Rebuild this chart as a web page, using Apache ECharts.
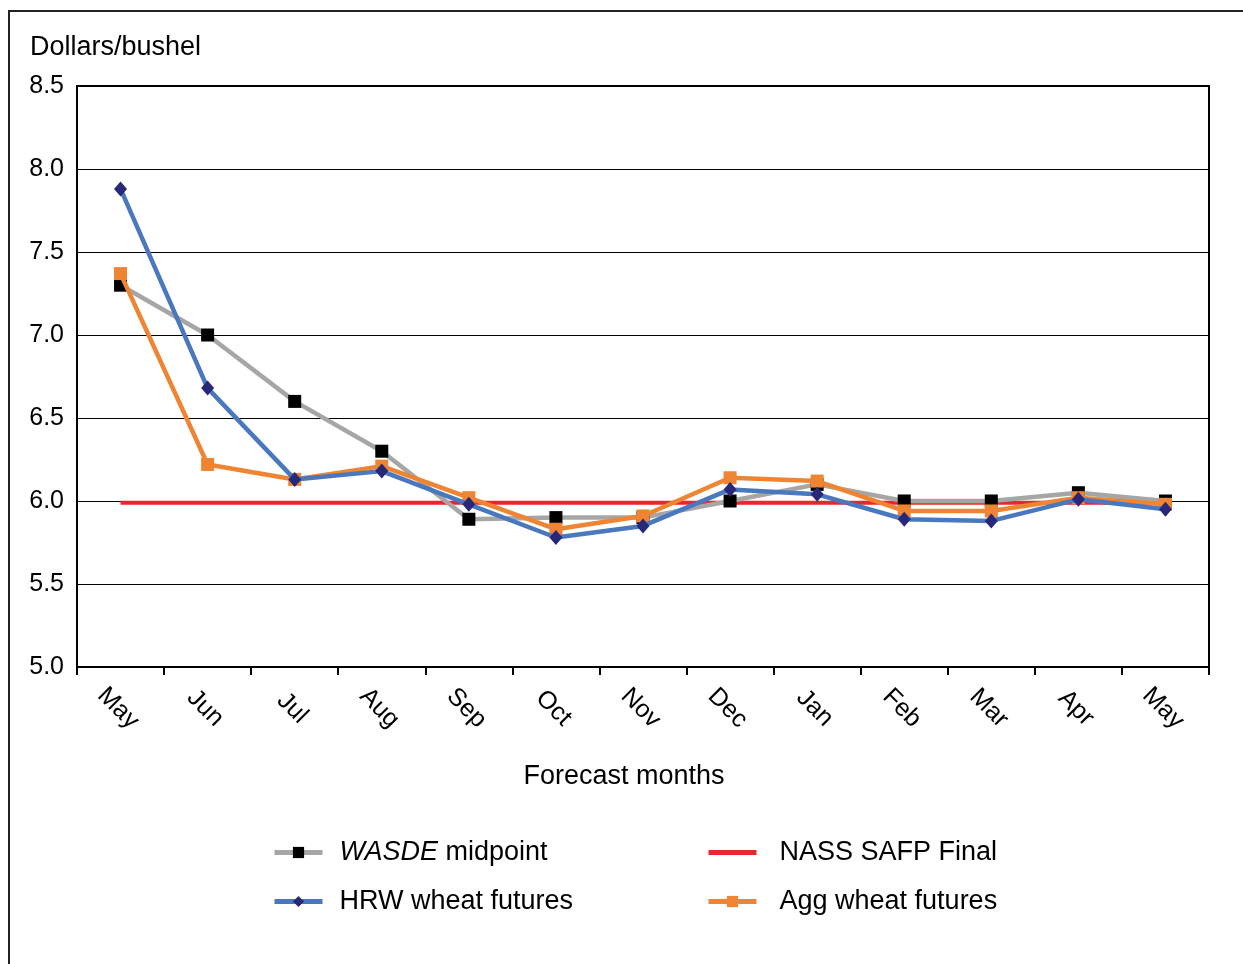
<!DOCTYPE html>
<html>
<head>
<meta charset="utf-8">
<script src="https://cdn.jsdelivr.net/npm/echarts@6/dist/echarts.min.js"></script>
<style>
html,body{margin:0;padding:0;background:#fff;}
#chart{width:1243px;height:964px;}
</style>
</head>
<body>
<div id="chart"></div>
<script>
const months = ['May','Jun','Jul','Aug','Sep','Oct','Nov','Dec','Jan','Feb','Mar','Apr','May'];
const wasde = [7.30, 7.00, 6.60, 6.30, 5.89, 5.90, 5.90, 6.00, 6.10, 6.00, 6.00, 6.05, 6.00];
const nassFinal = [5.99, 5.99, 5.99, 5.99, 5.99, 5.99, 5.99, 5.99, 5.99, 5.99, 5.99, 5.99, 5.99];
const hrw = [7.88, 6.68, 6.13, 6.18, 5.98, 5.78, 5.85, 6.07, 6.04, 5.89, 5.88, 6.01, 5.95];
const agg = [7.37, 6.22, 6.13, 6.21, 6.02, 5.83, 5.91, 6.14, 6.12, 5.94, 5.94, 6.02, 5.98];
const yTicks = [5.0, 5.5, 6.0, 6.5, 7.0, 7.5, 8.0, 8.5];

const FONT = '"Liberation Sans", Arial, Helvetica, sans-serif';
const chart = echarts.init(document.getElementById('chart'));
chart.setOption({
  backgroundColor: '#fff',
  animation: false,
  textStyle: { fontFamily: FONT, color: '#000' },
  graphic: [
    { type: 'rect', shape: { x: 9, y: 11, width: 1400, height: 1200 },
      style: { fill: 'none', stroke: '#222', lineWidth: 2 }, silent: true },
    { type: 'text', left: 30, top: 34,
      style: { text: 'Dollars/bushel', font: '27px ' + FONT, fill: '#000' } },
    { type: 'text', x: 624, y: 777,
      style: { text: 'Forecast months', font: '27px ' + FONT, fill: '#000', align: 'center', verticalAlign: 'middle' } }
  ],
  grid: { left: 77, right: 34, top: 86, bottom: 297, show: true, borderColor: '#000', borderWidth: 2, backgroundColor: 'transparent' },
  xAxis: {
    type: 'category', data: months, boundaryGap: true,
    axisLine: { lineStyle: { color: '#000', width: 2 } },
    axisTick: { show: true, length: 8, inside: false, lineStyle: { color: '#000', width: 2 } },
    axisLabel: { rotate: -45, align: 'center', verticalAlign: 'top', padding: [0, 0, 0, 18], margin: 26,
      fontSize: 25, color: '#000', fontFamily: FONT, interval: 0 },
    splitLine: { show: false }
  },
  yAxis: {
    type: 'value', min: 5, max: 8.5, interval: 0.5,
    axisLine: { show: true, lineStyle: { color: '#000', width: 2 } },
    axisTick: { show: false },
    axisLabel: { fontSize: 25, color: '#000', margin: 13, fontFamily: FONT,
      formatter: v => { const t = yTicks.find(x => Math.abs(x - v) < 1e-6); return (t !== undefined ? t : v).toFixed(1); } },
    splitLine: { show: true, lineStyle: { color: '#000', width: 1 } }
  },
  legend: [
    { orient: 'vertical', left: 272, top: 839, padding: 0, itemWidth: 48, itemHeight: 14, itemGap: 22,
      lineStyle: { width: 5 },
      data: ['WASDE midpoint', 'HRW wheat futures'],
      formatter: n => n === 'WASDE midpoint' ? '{i|WASDE} midpoint' : n,
      textStyle: { fontSize: 27, color: '#000', fontFamily: FONT, padding: [0, 0, 0, 12],
        rich: { i: { fontStyle: 'italic', fontSize: 27, fontFamily: FONT, color: '#000' } } } },
    { orient: 'vertical', left: 706, top: 839, padding: 0, itemWidth: 48, itemHeight: 14, itemGap: 22,
      lineStyle: { width: 5 },
      data: [{ name: 'NASS SAFP Final', icon: 'path://M0 0H48V5H0Z' }, 'Agg wheat futures'],
      textStyle: { fontSize: 27, color: '#000', fontFamily: FONT, padding: [0, 0, 0, 18] } }
  ],
  series: [
    { name: 'NASS SAFP Final', type: 'line', data: nassFinal, symbol: 'none', z: 2,
      lineStyle: { color: '#E8262B', width: 4 }, itemStyle: { color: '#E8262B' } },
    { name: 'WASDE midpoint', type: 'line', data: wasde, symbol: 'rect', symbolSize: 13, z: 3,
      lineStyle: { color: '#A6A6A6', width: 4.5 }, itemStyle: { color: '#000' } },
    { name: 'Agg wheat futures', type: 'line', data: agg, symbol: 'rect', symbolSize: 13, z: 4,
      lineStyle: { color: '#EF8533', width: 4.5 }, itemStyle: { color: '#EF8533' } },
    { name: 'HRW wheat futures', type: 'line', data: hrw, symbol: 'diamond', symbolSize: [13, 15], z: 5,
      lineStyle: { color: '#4A78BE', width: 4.5 }, itemStyle: { color: '#27287A' } }
  ]
});
</script>
</body>
</html>
